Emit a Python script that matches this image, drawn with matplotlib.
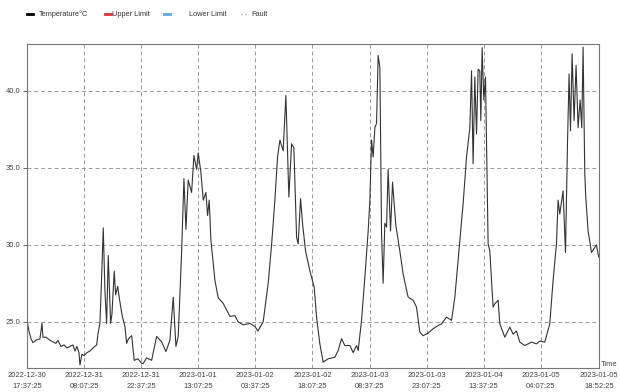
import matplotlib
matplotlib.use('Agg')
import matplotlib.pyplot as plt
import matplotlib.dates as mdates
from matplotlib.lines import Line2D
import numpy as np

plt.rcParams['font.family'] = ['Liberation Sans', 'DejaVu Sans']

# logger readings: hours since first sample, temperature in degC
start = np.datetime64('2022-12-30T17:37:25')
hours = [
    0.0, 0.51, 1.02, 1.52, 2.28, 3.30, 3.81, 4.06, 4.82, 5.84, 6.60, 7.36, 7.87,
    8.63, 9.39, 10.15, 10.92, 11.68, 12.19, 12.69, 13.20, 13.46, 13.96, 14.47,
    15.23, 15.99, 16.76, 17.69, 18.02, 18.53, 18.91, 19.37, 19.80, 20.23, 20.64,
    21.25, 21.58, 22.16, 22.52, 23.03, 23.48, 24.04, 24.37, 24.88, 25.31, 25.77,
    26.58, 27.24, 28.18, 29.12, 29.53, 30.39, 31.66, 32.93, 34.20, 35.29, 36.30,
    37.14, 37.83, 38.41, 39.27, 39.86, 40.37, 40.95, 41.81, 42.40, 43.08, 43.49,
    44.17, 44.76, 45.44, 45.87, 46.28, 46.71, 47.73, 48.57, 49.83, 51.53, 52.80,
    53.64, 54.91, 56.61, 57.88, 58.64, 59.99, 61.26, 62.12, 62.96, 63.64, 64.23,
    65.07, 65.75, 66.08, 66.51, 67.20, 67.78, 68.47, 68.87, 69.48, 69.99, 70.75,
    71.85, 72.94, 73.55, 74.38, 75.22, 76.49, 78.19, 79.03, 79.89, 80.73, 82.00,
    82.84, 83.70, 84.11, 84.97, 85.81, 86.65, 87.08, 87.51, 87.91, 88.35, 88.78,
    89.18, 89.62, 90.05, 90.45, 90.88, 91.32, 91.72, 92.33, 92.84, 93.68, 94.69,
    95.53, 96.80, 98.07, 98.93, 99.77, 100.61, 101.88, 103.15, 104.42, 105.28,
    106.55, 107.82, 108.66, 109.50, 110.76, 111.63, 112.47, 112.90, 113.30,
    113.73, 114.17, 114.57, 115.00, 115.26, 115.59, 116.02, 116.45, 117.11,
    117.54, 118.38, 118.81, 119.65, 120.08, 121.35, 122.62, 123.46, 124.32,
    125.16, 126.43, 128.13, 129.40, 130.24, 131.50, 132.77, 133.61, 134.47,
    134.88, 135.31, 136.15, 136.76, 137.27, 137.67, 138.03, 138.44, 138.94,
    139.45, 139.96, 140.47, 140.90, 141.23, 141.66, 141.91, 142.50, 143.36,
    144.63, 145.2,
]
temps = [
    25.1, 24.4, 23.9, 23.65, 23.8, 23.9, 24.9, 24.0, 24.0, 23.8, 23.7, 23.6, 23.8,
    23.4, 23.5, 23.3, 23.4, 23.5, 23.1, 23.4, 23.0, 22.2, 22.9, 22.8,
    23.0, 23.1, 23.3, 23.5, 24.2, 24.9, 27.5, 31.1, 27.0, 24.9, 29.3,
    24.9, 25.5, 28.3, 26.75, 27.3, 26.5, 25.6, 25.2, 24.7, 23.6, 23.9,
    24.1, 22.5, 22.6, 22.3, 22.3, 22.66, 22.5, 24.05, 23.7, 23.07, 23.8,
    26.6, 23.4, 24.05, 29.5, 34.3, 31.0, 34.2, 33.4, 35.8, 34.9, 35.97,
    34.7, 32.9, 33.4, 31.9, 32.9, 30.3, 27.7, 26.55, 26.2, 25.35, 25.4,
    25.0, 24.8, 24.9, 24.7, 24.4, 25.0, 27.5, 30.0, 32.9, 35.7, 36.8,
    36.1, 39.7, 36.9, 33.1, 36.56, 36.3, 30.5, 30.06, 33.0, 31.36, 29.6,
    28.3, 27.25, 25.3, 23.57, 22.38, 22.6, 22.7, 23.14, 23.9, 23.46, 23.46,
    23.0, 23.46, 23.14, 25.1, 27.9, 30.9, 32.9, 36.8, 35.7, 37.6, 37.9,
    42.3, 41.5, 30.7, 27.5, 31.4, 31.15, 34.9, 30.9, 34.07, 31.25, 29.6,
    28.1, 26.6, 26.4, 25.95, 24.33, 24.1, 24.27, 24.55, 24.76, 24.87,
    25.3, 25.1, 26.6, 29.0, 32.66, 35.7, 37.6, 41.3, 35.26,
    40.9, 37.2, 41.4, 41.3, 38.07, 42.8, 39.4, 40.9, 30.06,
    29.6, 25.95, 26.17, 26.4, 24.87, 24.0, 24.66, 24.2, 24.4,
    23.68, 23.46, 23.68, 23.57, 23.75, 23.68, 24.87, 27.68, 30.06,
    32.9, 32.0, 33.5, 29.5, 36.56, 41.1, 37.4, 42.4, 38.07,
    41.65, 37.6, 39.4, 37.6, 42.84, 34.6, 33.1, 30.9, 29.5,
    30.0, 29.2,
]

# axis ticks: every 14.5 h from the first sample, plus the last sample
tick_hours = [0, 14.5, 29, 43.5, 58, 72.5, 87, 101.5, 116, 130.5, 145.25]
y_ticks = [25.0, 30.0, 35.0, 40.0]

legend_labels = ['Temperature°C', 'Upper Limit', 'Lower Limit', 'Fault']


def to_time(h):
    return start + (np.array(h) * 3600).astype('timedelta64[s]')


t = to_time(hours)
xt = to_time(tick_hours)

fig = plt.figure(figsize=(6.2, 3.92), dpi=100)
ax = fig.add_axes([0.0435, 0.0612, 0.9225, 0.827])

ax.plot(t, temps, color='#333333', lw=0.8)

ax.set_xlim(xt[0], xt[-1])
ax.set_ylim(22.0, 43.05)
ax.set_xticks(xt)
ax.xaxis.set_major_formatter(mdates.DateFormatter('%Y-%m-%d\n%H:%M:%S'))
ax.set_yticks(y_ticks)
ax.set_yticklabels([f'{v:.1f}' for v in y_ticks])
ax.tick_params(axis='both', labelsize=5.5, colors='#444444', length=3, width=0.6, pad=1.5)
ax.tick_params(axis='x', length=0, pad=3)
for lab in ax.get_xticklabels():
    lab.set_linespacing(1.75)

ax.grid(True, ls=(0, (4, 3)), color='#999999', lw=0.7)
for s in ax.spines.values():
    s.set_color('#777777')
    s.set_linewidth(0.8)

ax.text(601 / 620, 1 - 364 / 392, 'Time', transform=fig.transFigure, fontsize=5.5,
        color='#444444', ha='left', va='center')

# legend row along the top, laid out by hand (uneven spacing)
ly = 1 - 14 / 392
items = [
    (27, 33, dict(color='black', lw=2), 39, legend_labels[0]),
    (105, 111, dict(color='#e03030', lw=2), 112, legend_labels[1]),
    (164, 170, dict(color='#60a8e0', lw=2), 189, legend_labels[2]),
    (241, 248, dict(color='#aaaaaa', lw=1, ls=':'), 251, legend_labels[3]),
]
for x0, x1, style, tx, lab in items:
    fig.add_artist(Line2D([x0 / 620, x1 / 620], [ly, ly], transform=fig.transFigure, **style))
    fig.text(tx / 620, ly, lab, fontsize=5.3, color='#333333', ha='left', va='center')

fig.savefig('out.png', dpi=100)
